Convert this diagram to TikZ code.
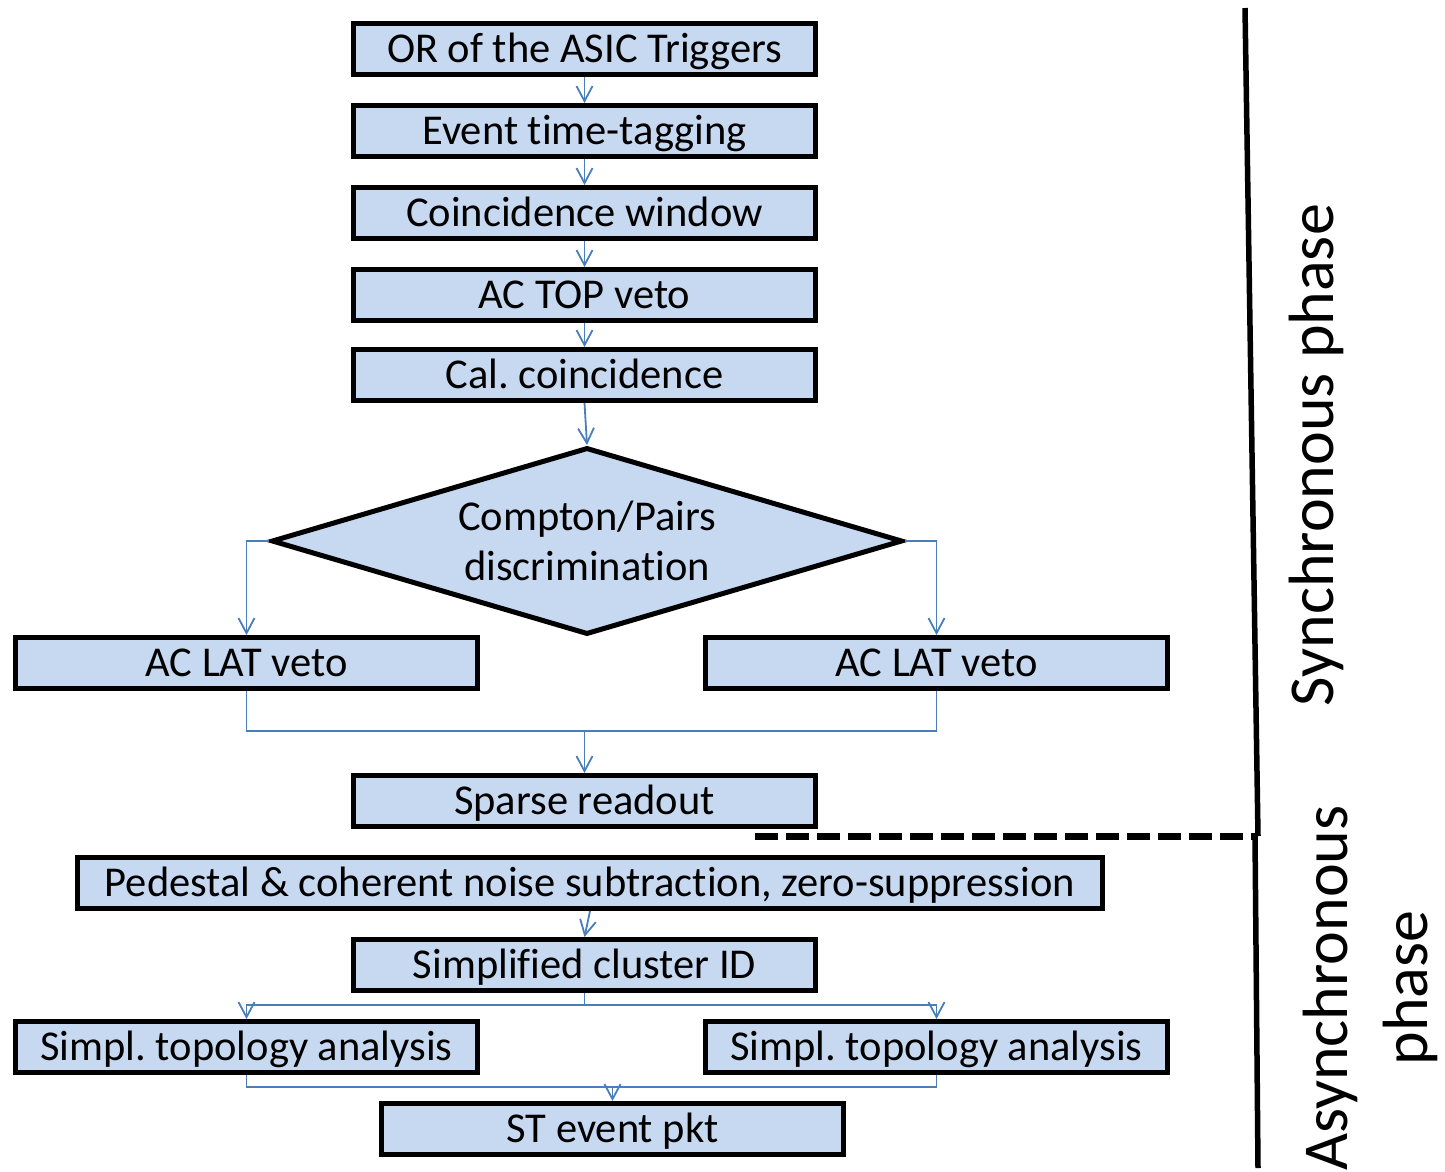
\documentclass[tikz,border=0pt]{standalone}
\usepackage{fontspec}
\setmainfont{Carlito}[RawFeature={-liga}]
\frenchspacing
\usetikzlibrary{shapes.geometric,arrows.meta}
\definecolor{boxfill}{HTML}{C6D9F1}
\definecolor{linkblue}{HTML}{4A7EBB}
\begin{document}
\begin{tikzpicture}[x=1pt,y=-1pt,
  boxfont/.style={font=\fontsize{42.5}{50}\selectfont},
  stepbox/.style={draw=black,line width=5pt,fill=boxfill,minimum width=462pt,minimum height=51pt,inner sep=0pt,boxfont,text height=27.4pt,text depth=0pt},
  link/.style={draw=linkblue,line width=1.8pt},
  arr/.style={link,-{Straight Barb[length=15pt,width=16pt,line width=1.8pt]}},
  phase/.style={rotate=90,align=center,inner sep=0pt,font=\fontsize{64}{80}\selectfont},
  bar/.style={line width=5.5pt,black}]
\useasboundingbox (0,0) rectangle (1445,1171);
\node[stepbox] (b1) at (584.5,49) {OR of the ASIC Triggers};
\node[stepbox] (b2) at (584.5,131) {Event time-tagging};
\node[stepbox] (b3) at (584.5,213) {Coincidence window};
\node[stepbox] (b4) at (584.5,295) {AC TOP veto};
\node[stepbox] (b5) at (584.5,375) {Cal. coincidence};
\node[draw=black,line width=5pt,fill=boxfill,shape=diamond,aspect=3.37,inner sep=0pt,
      minimum width=631pt,minimum height=187pt,align=center,font=\fontsize{42.5}{50}\selectfont]
      (dia) at (587,541) {Compton/Pairs\\discrimination};
\node[stepbox] (vl) at (246.5,663) {AC LAT veto};
\node[stepbox] (vr) at (936.5,663) {AC LAT veto};
\node[stepbox] (sr) at (584.5,801) {Sparse readout};
\node[stepbox,minimum width=1025pt] (ped) at (590,883) {Pedestal \& coherent noise subtraction, zero-suppression};
\node[stepbox] (cid) at (584.5,965) {Simplified cluster ID};
\node[stepbox] (tl) at (246.5,1047) {Simpl. topology analysis};
\node[stepbox] (tr) at (936.5,1047) {Simpl. topology analysis};
\node[stepbox] (st) at (612.5,1129) {ST event pkt};

\draw[arr] (b1.south) -- (b2.north);
\draw[arr] (b2.south) -- (b3.north);
\draw[arr] (b3.south) -- (b4.north);
\draw[arr] (b4.south) -- (b5.north);
\draw[arr] (b5.south) -- (dia.north);
\draw[arr] (dia.west) -| (vl.north);
\draw[arr] (dia.east) -| (vr.north);
\coordinate (m1) at (584.5,731);
\draw[link] (vl.south) |- (m1) -| (vr.south);
\draw[arr] (m1) -- (sr.north);
\draw[arr] (ped.south) -- (cid.north);
\coordinate (m2) at (584.5,1005);
\draw[link] (cid.south) -- (m2);
\draw[arr] (m2) -| (tl.north);
\draw[arr] (m2) -| (tr.north);
\coordinate (m3) at (612.5,1087);
\draw[link] (tl.south) |- (m3) -| (tr.south);
\draw[arr] (m3) -- (st.north);

\coordinate (s1) at (1245,8);
\coordinate (s2) at (1258,836);
\coordinate (s3) at (1255,836);
\coordinate (s4) at (1258,1168);
\coordinate (d1) at (755,836);
\draw[bar] (s1) -- (s2);
\draw[bar] (s3) -- (s4);
\draw[line width=7pt,dash pattern=on 23pt off 8pt] (d1) -- (s2);
\node[phase] (sync) at (1316,455) {Synchronous phase};
\node[phase] (async) at (1370,988) {Asynchronous\\phase};
\end{tikzpicture}
\end{document}
